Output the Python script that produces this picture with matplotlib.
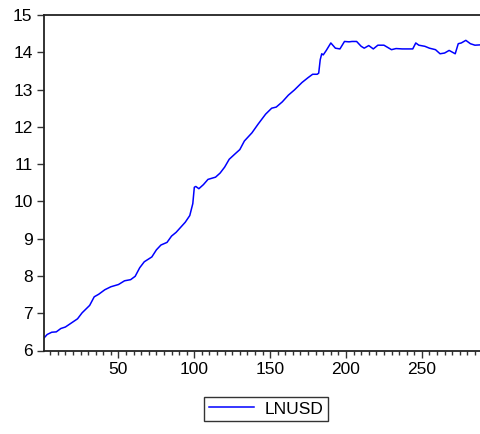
import matplotlib
matplotlib.use("Agg")
import matplotlib.pyplot as plt
from matplotlib.ticker import MultipleLocator

plt.rcParams['font.family'] = ['Liberation Sans', 'DejaVu Sans']

obs = [1, 3, 6, 9, 12, 15, 19, 23, 26, 31, 34, 37, 41, 45, 50, 54, 58, 61, 64, 67,
       72, 75, 78, 82, 85, 88, 92, 94, 97, 99, 100, 101, 103, 106, 109, 114, 117, 120,
       123, 127, 130, 133, 138, 142, 147, 151, 154, 158, 162, 166, 171, 175, 178, 181,
       182, 183, 184, 185, 187, 190, 193, 196, 199, 202, 204, 207, 210, 212, 215, 218,
       221, 225, 230, 233, 237, 241, 244, 246, 248, 252, 255, 259, 262, 265, 268, 272,
       274, 276, 279, 282, 285, 289]
lnusd = [6.34, 6.43, 6.49, 6.50, 6.59, 6.63, 6.74, 6.85, 7.01, 7.21, 7.44, 7.51, 7.63,
         7.71, 7.77, 7.87, 7.90, 7.99, 8.22, 8.38, 8.51, 8.70, 8.83, 8.90, 9.07, 9.17,
         9.35, 9.44, 9.62, 9.94, 10.38, 10.40, 10.34, 10.45, 10.59, 10.65, 10.76, 10.92,
         11.13, 11.28, 11.39, 11.62, 11.84, 12.07, 12.34, 12.50, 12.53, 12.67, 12.85,
         12.99, 13.19, 13.32, 13.41, 13.41, 13.44, 13.80, 13.96, 13.93, 14.05, 14.25,
         14.11, 14.09, 14.29, 14.28, 14.29, 14.29, 14.16, 14.11, 14.18, 14.09, 14.19,
         14.19, 14.07, 14.10, 14.09, 14.09, 14.09, 14.25, 14.19, 14.16, 14.11, 14.07,
         13.96, 13.98, 14.05, 13.96, 14.23, 14.25, 14.32, 14.23, 14.19, 14.20]
xticks = [50, 100, 150, 200, 250]
yticks = [6, 7, 8, 9, 10, 11, 12, 13, 14, 15]

fig = plt.figure(figsize=(4.81, 4.34), dpi=100)
ax = fig.add_axes([43.7/481, 1 - 350.5/434, 1 - 43.7/481, (350.5 - 15)/434])
ax.plot(obs, lnusd, color='#0000FF', linewidth=1.1, label='LNUSD')

ax.set_xlim(0.7, 289)
ax.set_ylim(6, 15)
ax.set_xticks(xticks)
ax.set_yticks(yticks)
ax.xaxis.set_minor_locator(MultipleLocator(5))
ax.tick_params(axis='both', direction='out', labelsize=12.5, width=1, length=5,
               color='#333333', pad=3)
ax.tick_params(axis='x', which='minor', direction='out', length=3, width=1, color='#333333')
for s in ['left', 'top', 'bottom']:
    ax.spines[s].set_linewidth(1.3)
    ax.spines[s].set_color('#222222')
ax.spines['right'].set_visible(False)

leg = fig.legend(loc='center', bbox_to_anchor=(266/481, 1 - 409/434), fontsize=12.5,
                 frameon=True, fancybox=False, handlelength=2.6, borderpad=0.25,
                 handletextpad=0.6)
leg.get_frame().set_edgecolor('black')
leg.get_frame().set_linewidth(1.0)

fig.savefig('out.png', dpi=100)
